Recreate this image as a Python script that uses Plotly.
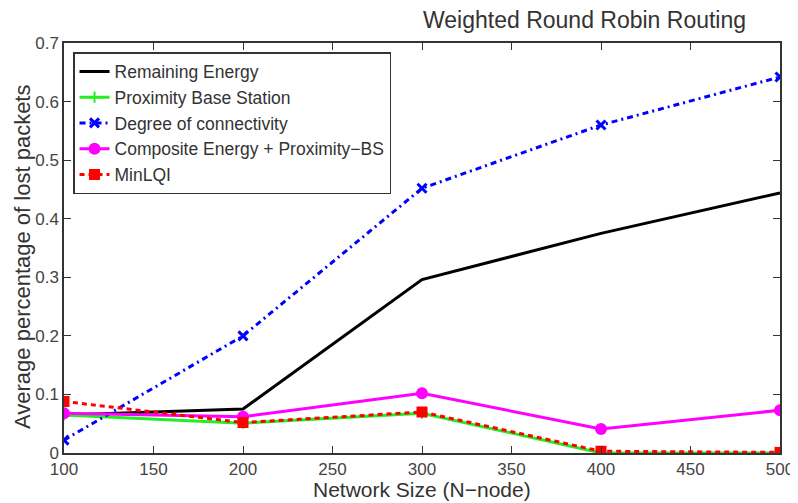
import plotly.graph_objects as go

x_nodes = [100, 200, 300, 400, 500]
remaining_energy = [0.065, 0.075, 0.296, 0.375, 0.444]
proximity_bs = [0.065, 0.051, 0.068, 0.0, 0.0]
degree_conn = [0.022, 0.200, 0.452, 0.560, 0.642]
composite = [0.068, 0.062, 0.102, 0.041, 0.073]
min_lqi = [0.088, 0.052, 0.070, 0.003, 0.001]

x_ticks = [100, 150, 200, 250, 300, 350, 400, 450, 500]
y_ticks = [0, 0.1, 0.2, 0.3, 0.4, 0.5, 0.6, 0.7]
y_tick_text = ["0", "0.1", "0.2", "0.3", "0.4", "0.5", "0.6", "0.7"]

fig = go.Figure()
fig.add_trace(go.Scatter(x=x_nodes, y=remaining_energy, name="Remaining Energy",
                         mode="lines", line=dict(color="black", width=3)))
fig.add_trace(go.Scatter(x=x_nodes, y=proximity_bs, name="Proximity Base Station",
                         mode="lines+markers", line=dict(color="#22ee22", width=3),
                         marker=dict(symbol="cross-thin", size=8, line=dict(color="#22ee22", width=2))))
fig.add_trace(go.Scatter(x=x_nodes, y=degree_conn, name="Degree of connectivity",
                         mode="lines+markers", line=dict(color="#0000ff", width=3, dash="6px,4px,2px,4px"),
                         marker=dict(symbol="x-thin", size=9, line=dict(color="#0000ff", width=3))))
fig.add_trace(go.Scatter(x=x_nodes, y=composite, name="Composite Energy + Proximity\u2212BS",
                         mode="lines+markers", line=dict(color="#ff00ff", width=3),
                         marker=dict(symbol="circle", size=12, color="#ff00ff")))
fig.add_trace(go.Scatter(x=x_nodes, y=min_lqi, name="MinLQI",
                         mode="lines+markers", line=dict(color="#ff0000", width=3, dash="5px,4px"),
                         marker=dict(symbol="square", size=11, color="#ff0000")))

axis_common = dict(showline=True, linecolor="#333", linewidth=1.5, mirror="ticks",
                   ticks="inside", ticklen=7, tickcolor="#333", showgrid=False,
                   zeroline=False, automargin=False,
                   tickfont=dict(size=17, color="#444"))

# page body has an 8px default margin, so the figure is sized to fit inside the window
fig.update_layout(
    width=790, height=495,
    paper_bgcolor="white", plot_bgcolor="white",
    font=dict(family="Liberation Sans, Arial, sans-serif", color="#333"),
    margin=dict(l=56, r=18, t=35, b=50),
    xaxis=dict(range=[100, 500], tickvals=x_ticks, **axis_common),
    yaxis=dict(range=[0, 0.7], tickvals=y_ticks, ticktext=y_tick_text, **axis_common),
    legend=dict(x=0.0126, y=0.978, xanchor="left", yanchor="top",
                bgcolor="white", bordercolor="#333", borderwidth=1.5,
                font=dict(size=17.5, color="#333"), itemwidth=30, tracegroupgap=0),
    showlegend=True,
    annotations=[
        dict(text="Weighted Round Robin Routing", xref="paper", yref="paper",
             x=(584 - 64) / 716, y=(453 - 20) / 410, xanchor="center", yanchor="middle",
             showarrow=False, font=dict(size=23, color="#333")),
        dict(text="Network Size (N\u2212node)", xref="paper", yref="paper",
             x=0.5, y=(453 - 489) / 410, xanchor="center", yanchor="middle",
             showarrow=False, font=dict(size=21, color="#333")),
        dict(text="Average percentage of lost packets", xref="paper", yref="paper",
             x=(22 - 64) / 716, y=(453 - 257) / 410, xanchor="center", yanchor="middle",
             textangle=-90, showarrow=False, font=dict(size=22, color="#333")),
    ],
)

fig.write_html("out.html")
